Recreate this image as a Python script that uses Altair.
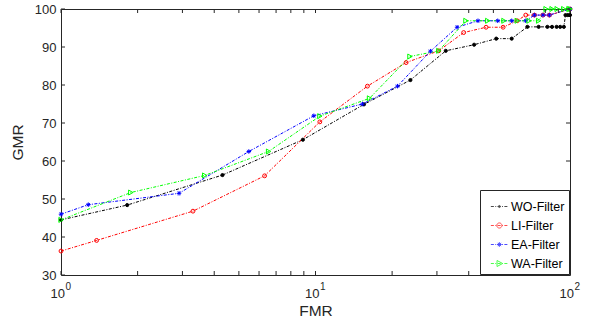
import altair as alt
import pandas as pd

series_names = ["WO-Filter", "LI-Filter", "EA-Filter", "WA-Filter"]
series_colors = ["#000000", "#ff0000", "#0000ff", "#00ff00"]

wo_fmr = [1, 1.82, 4.31, 8.92, 15.5, 23.6, 32.5, 42.0, 51.3, 59.0, 68.0, 75.3, 81.5, 85.0, 88.6, 91.5, 94.6, 96.0, 98.0, 100, 100]
wo_gmr = [44.5, 48.4, 56.3, 65.6, 74.9, 81.3, 89.0, 90.6, 92.2, 92.2, 95.3, 95.3, 95.3, 95.3, 95.3, 95.3, 95.3, 98.4, 98.4, 98.4, 100]

li_fmr = [1, 1.38, 3.30, 6.31, 10.4, 16.0, 22.7, 30.5, 38.2, 46.8, 54.6, 62.0, 67.0, 72.5, 78.3, 83.0, 100]
li_gmr = [36.3, 39.1, 46.8, 56.1, 70.3, 79.7, 85.9, 89.0, 93.8, 95.2, 95.2, 96.9, 98.4, 98.4, 98.4, 98.4, 100]

ea_fmr = [1, 1.28, 2.91, 5.47, 9.85, 15.3, 21.0, 28.3, 36.0, 43.5, 52.0, 59.0, 67.0, 72.5, 78.3, 83.0, 100]
ea_gmr = [46.0, 48.5, 51.5, 62.5, 71.9, 75.0, 79.7, 88.9, 95.2, 96.9, 96.9, 96.9, 96.9, 98.4, 98.4, 98.4, 100]

wa_fmr = [1, 1.88, 3.67, 6.54, 10.4, 16.3, 23.5, 30.5, 39.0, 47.5, 55.0, 62.0, 69.0, 75.3, 80.5, 85.0, 89.0, 94.5, 99.0, 100]
wa_gmr = [44.5, 51.7, 56.2, 62.5, 71.8, 76.5, 87.5, 89.0, 96.9, 96.9, 96.9, 96.9, 96.9, 96.9, 100, 100, 100, 100, 100, 100]

x_tick_values = [1, 2, 3, 4, 5, 6, 7, 8, 9, 10, 20, 30, 40, 50, 60, 70, 80, 90, 100]
x_label_values = [1, 10, 100]
x_label_base = ["10", "10", "10"]
x_label_exp = ["0", "1", "2"]
y_tick_values = [30, 40, 50, 60, 70, 80, 90, 100]

W, H = 509, 266
FONT = "Liberation Sans"
AX = "#262626"

rows = []
for name, xs, ys in zip(series_names,
                        [wo_fmr, li_fmr, ea_fmr, wa_fmr],
                        [wo_gmr, li_gmr, ea_gmr, wa_gmr]):
    for i, (a, b) in enumerate(zip(xs, ys)):
        rows.append({"series": name, "FMR": a, "GMR": b, "idx": i})
df = pd.DataFrame(rows)

xscale = alt.Scale(type="log", domain=[1, 100], nice=False)
yscale = alt.Scale(domain=[30, 100], nice=False, zero=False)

xaxis = alt.Axis(
    title="FMR", values=x_label_values, labels=False,
    tickSize=0, domain=False, grid=False, titlePadding=28,
    titleFont=FONT, titleFontSize=15.5, titleFontWeight="normal", titleColor=AX)
yaxis = alt.Axis(
    title="GMR", values=y_tick_values, tickSize=0, domain=False, grid=False,
    labelPadding=5, titlePadding=9, labelFlush=False, labelOverlap=False,
    labelFont=FONT, labelFontSize=13, labelColor=AX,
    titleFont=FONT, titleFontSize=15.5, titleFontWeight="normal", titleColor=AX)

xenc = alt.X("FMR:Q", scale=xscale, axis=xaxis)
yenc = alt.Y("GMR:Q", scale=yscale, axis=yaxis)

color_scale = alt.Scale(domain=series_names, range=series_colors)

base = alt.Chart(df)

lines = base.mark_line(strokeWidth=1, strokeDash=[3, 1.5, 1, 1.5], clip=False).encode(
    x=xenc, y=yenc,
    color=alt.Color("series:N", scale=color_scale, legend=None),
    order="idx:Q",
)

asterisk = "M-1,0H1M0,-1V1M-0.7,-0.7L0.7,0.7M-0.7,0.7L0.7,-0.7"
points = base.mark_point(filled=False, strokeWidth=1, opacity=1).encode(
    x=xenc, y=yenc,
    color=alt.Color("series:N", scale=color_scale, legend=None),
    shape=alt.Shape("series:N", scale=alt.Scale(domain=series_names,
                    range=["circle", "circle", asterisk, "triangle-right"]), legend=None),
    fill=alt.Fill("series:N", scale=alt.Scale(domain=series_names,
                  range=["#000000", "rgba(0,0,0,0)", "rgba(0,0,0,0)", "rgba(0,0,0,0)"]), legend=None),
    size=alt.Size("series:N", scale=alt.Scale(domain=series_names, range=[10, 25, 20, 36]), legend=None),
)


def legend_path(marker, start=-0.485, end=0.974):
    segs = []
    x = start
    pattern = [(0.26, 0.12), (0.08, 0.12)]
    i = 0
    while x < end:
        d, g = pattern[i % 2]
        x2 = min(x + d, end)
        segs.append(f"M{x:.3f},0H{x2:.3f}")
        x = x2 + g
        i += 1
    return "".join(segs) + marker


c = 0.245


def circ(r):
    return f"M{c - r:.3f},0A{r},{r} 0 1,0 {c + r:.3f},0A{r},{r} 0 1,0 {c - r:.3f},0Z"


r = 0.2
legend_shapes = [
    legend_path(circ(0.09)),
    legend_path(circ(0.22)),
    legend_path(f"M{c - r:.3f},0H{c + r:.3f}M{c:.3f},{-r}V{r}"
                f"M{c - 0.14:.3f},-0.14L{c + 0.14:.3f},0.14M{c - 0.14:.3f},0.14L{c + 0.14:.3f},-0.14"),
    legend_path(f"M{c - 0.2:.3f},-0.26L{c + 0.28:.3f},0L{c - 0.2:.3f},0.26Z"),
]

leg = alt.Legend(title=None, orient="bottom-right", offset=1, padding=4,
                 labelFont=FONT, labelFontSize=12.5, labelColor="#000000", labelOffset=2,
                 rowPadding=0, strokeColor=AX, fillColor="white",
                 symbolStrokeWidth=1, symbolSize=543)

legend_layer = base.transform_filter("false").mark_point(filled=False, strokeWidth=1).encode(
    x=xenc, y=yenc,
    color=alt.Color("series:N", scale=color_scale, legend=leg),
    shape=alt.Shape("series:N", scale=alt.Scale(domain=series_names, range=legend_shapes), legend=leg),
)

xt = pd.DataFrame({"FMR": x_tick_values})
yt = pd.DataFrame({"GMR": y_tick_values})
xl = pd.DataFrame({"FMR": x_label_values, "base": x_label_base, "exp": x_label_exp})

xt_bottom = alt.Chart(xt).mark_rule(color=AX, strokeWidth=1).encode(
    x=xenc, y=alt.value(H), y2=alt.value(H - 4))
xt_top = alt.Chart(xt).mark_rule(color=AX, strokeWidth=1).encode(
    x=xenc, y=alt.value(0), y2=alt.value(4))
yt_left = alt.Chart(yt).mark_rule(color=AX, strokeWidth=1).encode(
    y=yenc, x=alt.value(0), x2=alt.value(4))
yt_right = alt.Chart(yt).mark_rule(color=AX, strokeWidth=1).encode(
    y=yenc, x=alt.value(W - 4), x2=alt.value(W))

xl_base = alt.Chart(xl).mark_text(font=FONT, fontSize=13, color=AX, align="right",
                                  baseline="alphabetic", dx=4).encode(
    x=xenc, y=alt.value(H + 23), text="base:N")
xl_exp = alt.Chart(xl).mark_text(font=FONT, fontSize=10, color=AX, align="left",
                                 baseline="alphabetic", dx=4.5).encode(
    x=xenc, y=alt.value(H + 15), text="exp:N")

chart = alt.layer(lines, points, legend_layer, xt_bottom, xt_top, yt_left, yt_right,
                  xl_base, xl_exp).resolve_scale(
    color="independent", shape="independent"
).properties(
    width=W, height=H,
    autosize=alt.AutoSizeParams(type="none"),
    padding={"left": 61, "top": 9, "right": 19, "bottom": 52},
    background="white",
).configure_view(stroke=AX, strokeWidth=1)

chart.save("out.html", embed_options={"renderer": "svg", "actions": False})
